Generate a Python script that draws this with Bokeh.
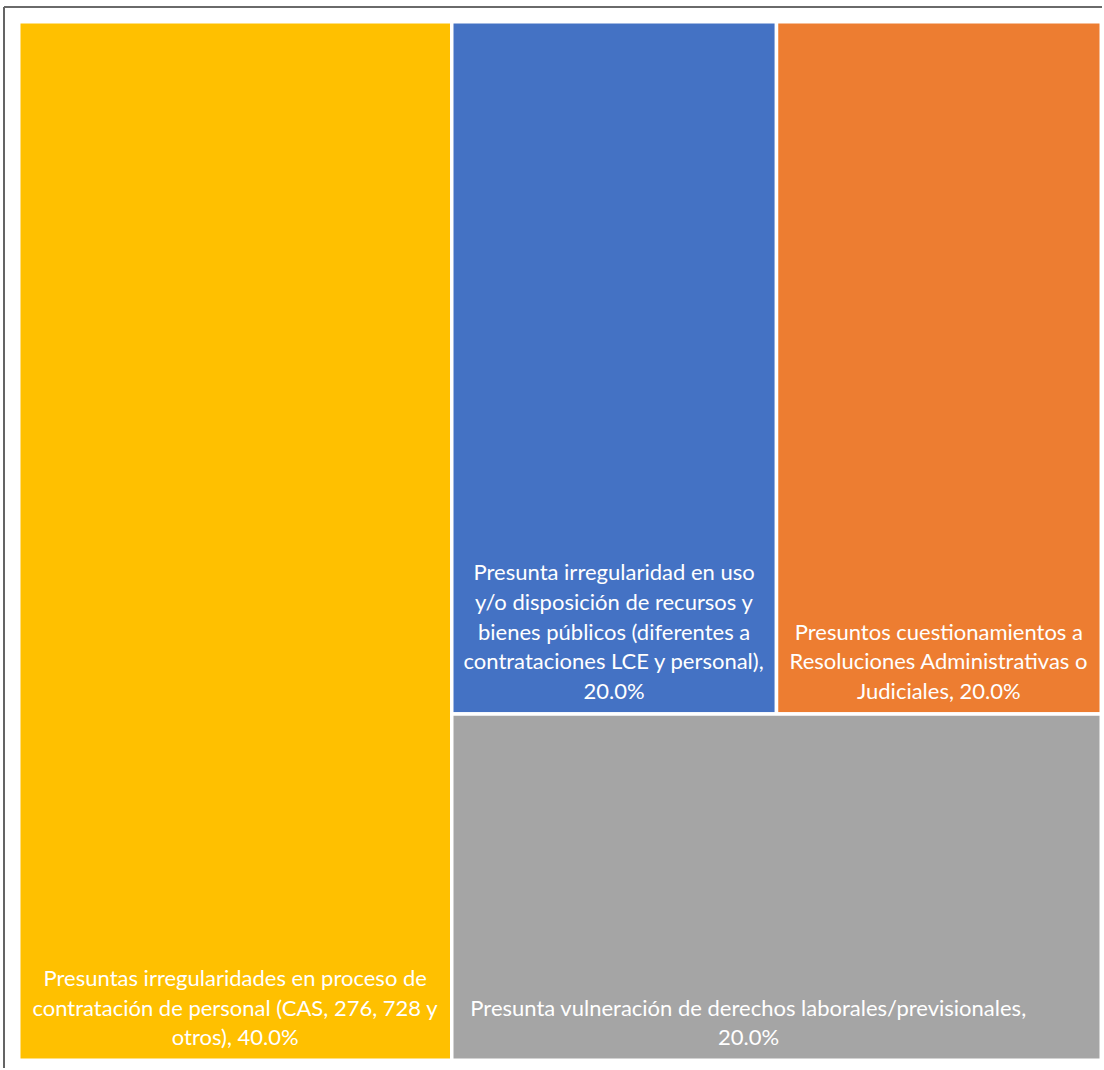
import textwrap
from bokeh.plotting import figure
from bokeh.models import Range1d, ColumnDataSource
from bokeh.core.properties import value
from bokeh.embed import file_html
from bokeh.resources import INLINE

# ---------------- data ----------------
categories = [
    "Presuntas irregularidades en proceso de contratación de personal (CAS, 276, 728 y otros)",
    "Presunta irregularidad en uso y/o disposición de recursos y bienes públicos (diferentes a contrataciones LCE y personal)",
    "Presuntos cuestionamientos a Resoluciones Administrativas o Judiciales",
    "Presunta vulneración de derechos laborales/previsionales",
]
shares = [40.0, 20.0, 20.0, 20.0]

# ---------------- style ----------------
colors = ["#FFC000", "#4472C4", "#ED7D31", "#A5A5A5"]
wrap_chars = [41, 31, 31, 58]
label_x_offset = [0, 0, 0, -28]

W_PX, H_PX = 1102, 1068
PAD_L, PAD_R, PAD_T, PAD_B = 18.25, 1.25, 21.25, 8.25   # pixel margins around treemap
BORDER_X, BORDER_Y = 3.5, 6.5                           # chart-area border (px)

# ---------------- treemap layout (Excel-like) ----------------
total = sum(shares)
BOX = 100.0
left, right, bottom, top = [], [], [], []
# first item: full-height column
w0 = BOX * shares[0] / total
left.append(0.0); right.append(w0); bottom.append(0.0); top.append(BOX)
rest = total - shares[0]
# items 1 and 2 side by side in the upper band
band = shares[1] + shares[2]
hb = BOX * band / rest
x = w0
for s in shares[1:3]:
    w = (BOX - w0) * s / band
    left.append(x); right.append(x + w); bottom.append(BOX - hb); top.append(BOX)
    x += w
# item 3 fills the bottom band
left.append(w0); right.append(BOX); bottom.append(0.0); top.append(BOX - hb)

labels = []
for c, s, n in zip(categories, shares, wrap_chars):
    txt = f"{c}, {s:.1f}%"
    labels.append("\n".join(textwrap.wrap(txt, n, break_on_hyphens=False)))

src = ColumnDataSource(dict(
    left=left, right=right, bottom=bottom, top=top, color=colors,
    lx=[(l + r) / 2 for l, r in zip(left, right)], ly=bottom,
    label=labels, xo=label_x_offset,
))

xs = (W_PX - PAD_L - PAD_R) / BOX
ys = (H_PX - PAD_T - PAD_B) / BOX
x_start = -PAD_L / xs
y_start = -PAD_B / ys
x_end = x_start + W_PX / xs
y_end = y_start + H_PX / ys

p = figure(width=W_PX, height=H_PX, output_backend="svg", toolbar_location=None,
           x_range=Range1d(x_start, x_end), y_range=Range1d(y_start, y_end),
           min_border=0, outline_line_color=None)
p.axis.visible = False
p.grid.visible = False
p.background_fill_color = "white"

p.quad(left="left", right="right", bottom="bottom", top="top", source=src,
       fill_color="color", line_color="white", line_width=3.5)

p.text(x="lx", y="ly", text="label", source=src, x_offset="xo", y_offset=-10,
       text_align="center", text_baseline="bottom", text_color="white",
       text_font=value("Lato"), text_font_size="22px", text_line_height=1.10)

# chart-area border (left and top edges)
bx = x_start + BORDER_X / xs
by = y_end - BORDER_Y / ys
p.segment(x0=[bx], y0=[by], x1=[bx], y1=[y_start], line_color="#303030", line_width=1.5)
p.segment(x0=[bx], y0=[by], x1=[x_end], y1=[by], line_color="#6a6a6a", line_width=2)

open("out.html", "w").write(file_html(p, INLINE))
